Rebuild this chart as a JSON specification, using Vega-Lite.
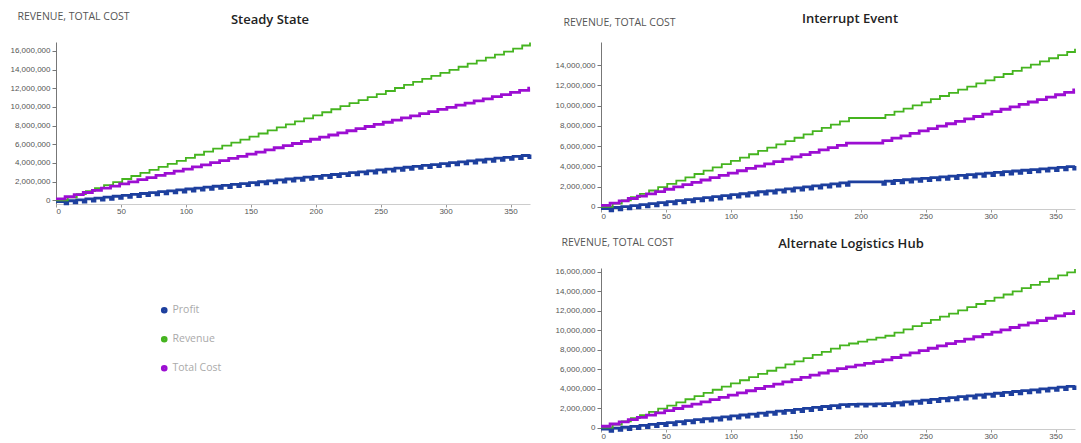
{
"$schema": "https://vega.github.io/schema/vega-lite/v6.json",
"autosize": {"type": "none"},
"padding": {"left": 56, "top": 42, "right": 1025, "bottom": 401},
"background": "white",
"config": {
  "view": {"stroke": null},
  "font": "Liberation Sans",
  "axis": {"grid": false, "labelFont": "Liberation Sans", "labelFontSize": 8, "labelColor": "#555", "tickSize": 4, "labelPadding": 2, "titleFont": "Open Sans", "titleFontSize": 10.5, "titleFontWeight": "normal", "titleColor": "#555"},
  "axisX": {"domainColor": "#ccc", "tickColor": "#999", "tickSize": 3, "labelPadding": 0},
  "axisY": {"domainColor": "#777", "tickColor": "#777"},
  "title": {"font": "Open Sans", "fontSize": 13, "fontWeight": 600, "color": "#222", "anchor": "middle", "frame": "group", "baseline": "middle"}
},
"data": {"values": [
{"s":"S","d":0,"C":150000,"R":0,"P":-150000},
{"s":"S","d":7,"C":378000,"P":-378000},{"s":"S","d":9,"R":325000,"P":-53000},
{"s":"S","d":14,"C":606000,"P":-281000},{"s":"S","d":16,"R":650000,"P":44000},
{"s":"S","d":21,"C":834000,"P":-184000},{"s":"S","d":23,"R":975000,"P":141000},
{"s":"S","d":28,"C":1062000,"P":-87000},{"s":"S","d":30,"R":1300000,"P":238000},
{"s":"S","d":35,"C":1290000,"P":10000},{"s":"S","d":37,"R":1625000,"P":335000},
{"s":"S","d":42,"C":1518000,"P":107000},{"s":"S","d":44,"R":1950000,"P":432000},
{"s":"S","d":49,"C":1746000,"P":204000},{"s":"S","d":51,"R":2275000,"P":529000},
{"s":"S","d":56,"C":1974000,"P":301000},{"s":"S","d":58,"R":2600000,"P":626000},
{"s":"S","d":63,"C":2202000,"P":398000},{"s":"S","d":65,"R":2925000,"P":723000},
{"s":"S","d":70,"C":2430000,"P":495000},{"s":"S","d":72,"R":3250000,"P":820000},
{"s":"S","d":77,"C":2658000,"P":592000},{"s":"S","d":79,"R":3575000,"P":917000},
{"s":"S","d":84,"C":2886000,"P":689000},{"s":"S","d":86,"R":3900000,"P":1014000},
{"s":"S","d":91,"C":3114000,"P":786000},{"s":"S","d":93,"R":4225000,"P":1111000},
{"s":"S","d":98,"C":3342000,"P":883000},{"s":"S","d":100,"R":4550000,"P":1208000},
{"s":"S","d":105,"C":3570000,"P":980000},{"s":"S","d":107,"R":4875000,"P":1305000},
{"s":"S","d":112,"C":3798000,"P":1077000},{"s":"S","d":114,"R":5200000,"P":1402000},
{"s":"S","d":119,"C":4026000,"P":1174000},{"s":"S","d":121,"R":5525000,"P":1499000},
{"s":"S","d":126,"C":4254000,"P":1271000},{"s":"S","d":128,"R":5850000,"P":1596000},
{"s":"S","d":133,"C":4482000,"P":1368000},{"s":"S","d":135,"R":6175000,"P":1693000},
{"s":"S","d":140,"C":4710000,"P":1465000},{"s":"S","d":142,"R":6500000,"P":1790000},
{"s":"S","d":147,"C":4938000,"P":1562000},{"s":"S","d":149,"R":6825000,"P":1887000},
{"s":"S","d":154,"C":5166000,"P":1659000},{"s":"S","d":156,"R":7150000,"P":1984000},
{"s":"S","d":161,"C":5394000,"P":1756000},{"s":"S","d":163,"R":7475000,"P":2081000},
{"s":"S","d":168,"C":5622000,"P":1853000},{"s":"S","d":170,"R":7800000,"P":2178000},
{"s":"S","d":175,"C":5850000,"P":1950000},{"s":"S","d":177,"R":8125000,"P":2275000},
{"s":"S","d":182,"C":6078000,"P":2047000},{"s":"S","d":184,"R":8450000,"P":2372000},
{"s":"S","d":189,"C":6306000,"P":2144000},{"s":"S","d":191,"R":8775000,"P":2469000},
{"s":"S","d":196,"C":6534000,"P":2241000},{"s":"S","d":198,"R":9100000,"P":2566000},
{"s":"S","d":203,"C":6762000,"P":2338000},{"s":"S","d":205,"R":9425000,"P":2663000},
{"s":"S","d":210,"C":6990000,"P":2435000},{"s":"S","d":212,"R":9750000,"P":2760000},
{"s":"S","d":217,"C":7218000,"P":2532000},{"s":"S","d":219,"R":10075000,"P":2857000},
{"s":"S","d":224,"C":7446000,"P":2629000},{"s":"S","d":226,"R":10400000,"P":2954000},
{"s":"S","d":231,"C":7674000,"P":2726000},{"s":"S","d":233,"R":10725000,"P":3051000},
{"s":"S","d":238,"C":7902000,"P":2823000},{"s":"S","d":240,"R":11050000,"P":3148000},
{"s":"S","d":245,"C":8130000,"P":2920000},{"s":"S","d":247,"R":11375000,"P":3245000},
{"s":"S","d":252,"C":8358000,"P":3017000},{"s":"S","d":254,"R":11700000,"P":3342000},
{"s":"S","d":259,"C":8586000,"P":3114000},{"s":"S","d":261,"R":12025000,"P":3439000},
{"s":"S","d":266,"C":8814000,"P":3211000},{"s":"S","d":268,"R":12350000,"P":3536000},
{"s":"S","d":273,"C":9042000,"P":3308000},{"s":"S","d":275,"R":12675000,"P":3633000},
{"s":"S","d":280,"C":9270000,"P":3405000},{"s":"S","d":282,"R":13000000,"P":3730000},
{"s":"S","d":287,"C":9498000,"P":3502000},{"s":"S","d":289,"R":13325000,"P":3827000},
{"s":"S","d":294,"C":9726000,"P":3599000},{"s":"S","d":296,"R":13650000,"P":3924000},
{"s":"S","d":301,"C":9954000,"P":3696000},{"s":"S","d":303,"R":13975000,"P":4021000},
{"s":"S","d":308,"C":10182000,"P":3793000},{"s":"S","d":310,"R":14300000,"P":4118000},
{"s":"S","d":315,"C":10410000,"P":3890000},{"s":"S","d":317,"R":14625000,"P":4215000},
{"s":"S","d":322,"C":10638000,"P":3987000},{"s":"S","d":324,"R":14950000,"P":4312000},
{"s":"S","d":329,"C":10866000,"P":4084000},{"s":"S","d":331,"R":15275000,"P":4409000},
{"s":"S","d":336,"C":11094000,"P":4181000},{"s":"S","d":338,"R":15600000,"P":4506000},
{"s":"S","d":343,"C":11322000,"P":4278000},{"s":"S","d":345,"R":15925000,"P":4603000},
{"s":"S","d":350,"C":11550000,"P":4375000},{"s":"S","d":352,"R":16250000,"P":4700000},
{"s":"S","d":357,"C":11778000,"P":4472000},{"s":"S","d":359,"R":16575000,"P":4797000},
{"s":"S","d":364,"C":12006000,"P":4569000},{"s":"S","d":365,"R":16900000,"C":12006000,"P":4894000},

{"s":"I","d":0,"C":150000,"R":0,"P":-150000},
{"s":"I","d":7,"C":378000,"P":-378000},{"s":"I","d":9,"R":325000,"P":-53000},
{"s":"I","d":14,"C":606000,"P":-281000},{"s":"I","d":16,"R":650000,"P":44000},
{"s":"I","d":21,"C":834000,"P":-184000},{"s":"I","d":23,"R":975000,"P":141000},
{"s":"I","d":28,"C":1062000,"P":-87000},{"s":"I","d":30,"R":1300000,"P":238000},
{"s":"I","d":35,"C":1290000,"P":10000},{"s":"I","d":37,"R":1625000,"P":335000},
{"s":"I","d":42,"C":1518000,"P":107000},{"s":"I","d":44,"R":1950000,"P":432000},
{"s":"I","d":49,"C":1746000,"P":204000},{"s":"I","d":51,"R":2275000,"P":529000},
{"s":"I","d":56,"C":1974000,"P":301000},{"s":"I","d":58,"R":2600000,"P":626000},
{"s":"I","d":63,"C":2202000,"P":398000},{"s":"I","d":65,"R":2925000,"P":723000},
{"s":"I","d":70,"C":2430000,"P":495000},{"s":"I","d":72,"R":3250000,"P":820000},
{"s":"I","d":77,"C":2658000,"P":592000},{"s":"I","d":79,"R":3575000,"P":917000},
{"s":"I","d":84,"C":2886000,"P":689000},{"s":"I","d":86,"R":3900000,"P":1014000},
{"s":"I","d":91,"C":3114000,"P":786000},{"s":"I","d":93,"R":4225000,"P":1111000},
{"s":"I","d":98,"C":3342000,"P":883000},{"s":"I","d":100,"R":4550000,"P":1208000},
{"s":"I","d":105,"C":3570000,"P":980000},{"s":"I","d":107,"R":4875000,"P":1305000},
{"s":"I","d":112,"C":3798000,"P":1077000},{"s":"I","d":114,"R":5200000,"P":1402000},
{"s":"I","d":119,"C":4026000,"P":1174000},{"s":"I","d":121,"R":5525000,"P":1499000},
{"s":"I","d":126,"C":4254000,"P":1271000},{"s":"I","d":128,"R":5850000,"P":1596000},
{"s":"I","d":133,"C":4482000,"P":1368000},{"s":"I","d":135,"R":6175000,"P":1693000},
{"s":"I","d":140,"C":4710000,"P":1465000},{"s":"I","d":142,"R":6500000,"P":1790000},
{"s":"I","d":147,"C":4938000,"P":1562000},{"s":"I","d":149,"R":6825000,"P":1887000},
{"s":"I","d":154,"C":5166000,"P":1659000},{"s":"I","d":156,"R":7150000,"P":1984000},
{"s":"I","d":161,"C":5394000,"P":1756000},{"s":"I","d":163,"R":7475000,"P":2081000},
{"s":"I","d":168,"C":5622000,"P":1853000},{"s":"I","d":170,"R":7800000,"P":2178000},
{"s":"I","d":175,"C":5850000,"P":1950000},{"s":"I","d":177,"R":8125000,"P":2275000},
{"s":"I","d":182,"C":6078000,"P":2047000},{"s":"I","d":184,"R":8450000,"P":2372000},
{"s":"I","d":189,"C":6306000,"P":2144000},{"s":"I","d":191,"R":8775000,"P":2469000},
{"s":"I","d":217,"C":6544000,"P":2231000},{"s":"I","d":219,"R":9085000,"P":2541000},
{"s":"I","d":224,"C":6782000,"P":2303000},{"s":"I","d":226,"R":9395000,"P":2613000},
{"s":"I","d":231,"C":7020000,"P":2375000},{"s":"I","d":233,"R":9705000,"P":2685000},
{"s":"I","d":238,"C":7258000,"P":2447000},{"s":"I","d":240,"R":10015000,"P":2757000},
{"s":"I","d":245,"C":7496000,"P":2519000},{"s":"I","d":247,"R":10325000,"P":2829000},
{"s":"I","d":252,"C":7734000,"P":2591000},{"s":"I","d":254,"R":10635000,"P":2901000},
{"s":"I","d":259,"C":7972000,"P":2663000},{"s":"I","d":261,"R":10945000,"P":2973000},
{"s":"I","d":266,"C":8210000,"P":2735000},{"s":"I","d":268,"R":11255000,"P":3045000},
{"s":"I","d":273,"C":8448000,"P":2807000},{"s":"I","d":275,"R":11565000,"P":3117000},
{"s":"I","d":280,"C":8686000,"P":2879000},{"s":"I","d":282,"R":11875000,"P":3189000},
{"s":"I","d":287,"C":8924000,"P":2951000},{"s":"I","d":289,"R":12185000,"P":3261000},
{"s":"I","d":294,"C":9162000,"P":3023000},{"s":"I","d":296,"R":12495000,"P":3333000},
{"s":"I","d":301,"C":9400000,"P":3095000},{"s":"I","d":303,"R":12805000,"P":3405000},
{"s":"I","d":308,"C":9638000,"P":3167000},{"s":"I","d":310,"R":13115000,"P":3477000},
{"s":"I","d":315,"C":9876000,"P":3239000},{"s":"I","d":317,"R":13425000,"P":3549000},
{"s":"I","d":322,"C":10114000,"P":3311000},{"s":"I","d":324,"R":13735000,"P":3621000},
{"s":"I","d":329,"C":10352000,"P":3383000},{"s":"I","d":331,"R":14045000,"P":3693000},
{"s":"I","d":336,"C":10590000,"P":3455000},{"s":"I","d":338,"R":14355000,"P":3765000},
{"s":"I","d":343,"C":10828000,"P":3527000},{"s":"I","d":345,"R":14665000,"P":3837000},
{"s":"I","d":350,"C":11066000,"P":3599000},{"s":"I","d":352,"R":14975000,"P":3909000},
{"s":"I","d":357,"C":11304000,"P":3671000},{"s":"I","d":359,"R":15285000,"P":3981000},
{"s":"I","d":364,"C":11542000,"P":3743000},{"s":"I","d":365,"R":15595000,"C":11542000,"P":4053000},

{"s":"A","d":0,"C":150000,"R":0,"P":-150000},
{"s":"A","d":7,"C":378000,"P":-378000},{"s":"A","d":9,"R":325000,"P":-53000},
{"s":"A","d":14,"C":606000,"P":-281000},{"s":"A","d":16,"R":650000,"P":44000},
{"s":"A","d":21,"C":834000,"P":-184000},{"s":"A","d":23,"R":975000,"P":141000},
{"s":"A","d":28,"C":1062000,"P":-87000},{"s":"A","d":30,"R":1300000,"P":238000},
{"s":"A","d":35,"C":1290000,"P":10000},{"s":"A","d":37,"R":1625000,"P":335000},
{"s":"A","d":42,"C":1518000,"P":107000},{"s":"A","d":44,"R":1950000,"P":432000},
{"s":"A","d":49,"C":1746000,"P":204000},{"s":"A","d":51,"R":2275000,"P":529000},
{"s":"A","d":56,"C":1974000,"P":301000},{"s":"A","d":58,"R":2600000,"P":626000},
{"s":"A","d":63,"C":2202000,"P":398000},{"s":"A","d":65,"R":2925000,"P":723000},
{"s":"A","d":70,"C":2430000,"P":495000},{"s":"A","d":72,"R":3250000,"P":820000},
{"s":"A","d":77,"C":2658000,"P":592000},{"s":"A","d":79,"R":3575000,"P":917000},
{"s":"A","d":84,"C":2886000,"P":689000},{"s":"A","d":86,"R":3900000,"P":1014000},
{"s":"A","d":91,"C":3114000,"P":786000},{"s":"A","d":93,"R":4225000,"P":1111000},
{"s":"A","d":98,"C":3342000,"P":883000},{"s":"A","d":100,"R":4550000,"P":1208000},
{"s":"A","d":105,"C":3570000,"P":980000},{"s":"A","d":107,"R":4875000,"P":1305000},
{"s":"A","d":112,"C":3798000,"P":1077000},{"s":"A","d":114,"R":5200000,"P":1402000},
{"s":"A","d":119,"C":4026000,"P":1174000},{"s":"A","d":121,"R":5525000,"P":1499000},
{"s":"A","d":126,"C":4254000,"P":1271000},{"s":"A","d":128,"R":5850000,"P":1596000},
{"s":"A","d":133,"C":4482000,"P":1368000},{"s":"A","d":135,"R":6175000,"P":1693000},
{"s":"A","d":140,"C":4710000,"P":1465000},{"s":"A","d":142,"R":6500000,"P":1790000},
{"s":"A","d":147,"C":4938000,"P":1562000},{"s":"A","d":149,"R":6825000,"P":1887000},
{"s":"A","d":154,"C":5166000,"P":1659000},{"s":"A","d":156,"R":7150000,"P":1984000},
{"s":"A","d":161,"C":5394000,"P":1756000},{"s":"A","d":163,"R":7475000,"P":2081000},
{"s":"A","d":168,"C":5622000,"P":1853000},{"s":"A","d":170,"R":7800000,"P":2178000},
{"s":"A","d":175,"C":5850000,"P":1950000},{"s":"A","d":177,"R":8125000,"P":2275000},
{"s":"A","d":182,"C":6078000,"P":2047000},{"s":"A","d":184,"R":8450000,"P":2372000},
{"s":"A","d":189,"C":6258000,"P":2192000},{"s":"A","d":191,"R":8650000,"P":2392000},
{"s":"A","d":196,"C":6438000,"P":2212000},{"s":"A","d":198,"R":8850000,"P":2412000},
{"s":"A","d":203,"C":6618000,"P":2232000},{"s":"A","d":205,"R":9050000,"P":2432000},
{"s":"A","d":210,"C":6798000,"P":2252000},{"s":"A","d":212,"R":9250000,"P":2452000},
{"s":"A","d":217,"C":6978000,"P":2272000},{"s":"A","d":219,"R":9450000,"P":2472000},
{"s":"A","d":224,"C":7215000,"P":2235000},{"s":"A","d":226,"R":9776000,"P":2561000},
{"s":"A","d":231,"C":7452000,"P":2324000},{"s":"A","d":233,"R":10102000,"P":2650000},
{"s":"A","d":238,"C":7689000,"P":2413000},{"s":"A","d":240,"R":10428000,"P":2739000},
{"s":"A","d":245,"C":7926000,"P":2502000},{"s":"A","d":247,"R":10754000,"P":2828000},
{"s":"A","d":252,"C":8163000,"P":2591000},{"s":"A","d":254,"R":11080000,"P":2917000},
{"s":"A","d":259,"C":8400000,"P":2680000},{"s":"A","d":261,"R":11406000,"P":3006000},
{"s":"A","d":266,"C":8637000,"P":2769000},{"s":"A","d":268,"R":11732000,"P":3095000},
{"s":"A","d":273,"C":8874000,"P":2858000},{"s":"A","d":275,"R":12058000,"P":3184000},
{"s":"A","d":280,"C":9111000,"P":2947000},{"s":"A","d":282,"R":12384000,"P":3273000},
{"s":"A","d":287,"C":9348000,"P":3036000},{"s":"A","d":289,"R":12710000,"P":3362000},
{"s":"A","d":294,"C":9585000,"P":3125000},{"s":"A","d":296,"R":13036000,"P":3451000},
{"s":"A","d":301,"C":9822000,"P":3214000},{"s":"A","d":303,"R":13362000,"P":3540000},
{"s":"A","d":308,"C":10059000,"P":3303000},{"s":"A","d":310,"R":13688000,"P":3629000},
{"s":"A","d":315,"C":10296000,"P":3392000},{"s":"A","d":317,"R":14014000,"P":3718000},
{"s":"A","d":322,"C":10533000,"P":3481000},{"s":"A","d":324,"R":14340000,"P":3807000},
{"s":"A","d":329,"C":10770000,"P":3570000},{"s":"A","d":331,"R":14666000,"P":3896000},
{"s":"A","d":336,"C":11007000,"P":3659000},{"s":"A","d":338,"R":14992000,"P":3985000},
{"s":"A","d":343,"C":11244000,"P":3748000},{"s":"A","d":345,"R":15318000,"P":4074000},
{"s":"A","d":350,"C":11481000,"P":3837000},{"s":"A","d":352,"R":15644000,"P":4163000},
{"s":"A","d":357,"C":11718000,"P":3926000},{"s":"A","d":359,"R":15970000,"P":4252000},
{"s":"A","d":364,"C":11955000,"P":4015000},{"s":"A","d":365,"R":16296000,"C":11955000,"P":4341000}
]},
"bounds": "flush",
"spacing": 71,
"resolve": {"scale": {"color": "shared"}, "legend": {"color": "shared"}},
"hconcat": [
  {
    "width": 474, "height": 162,
    "title": {"text": "Steady State", "dx": -23, "offset": -15.5},
    "transform": [{"filter": "datum.s == 'S'"}, {"fold": ["P", "R", "C"], "as": ["k", "v"]}, {"filter": "isValid(datum.v)"}],
    "mark": {"type": "line", "interpolate": "step-after"},
    "encoding": {
      "x": {"field": "d", "type": "quantitative", "scale": {"domain": [0, 365], "nice": false}, "axis": {"values": [0, 50, 100, 150, 200, 250, 300, 350], "title": null}},
      "y": {"field": "v", "type": "quantitative", "scale": {"domain": [-400000, 16950000], "nice": false, "zero": false},
        "axis": {"values": [0, 2000000, 4000000, 6000000, 8000000, 10000000, 12000000, 14000000, 16000000], "format": ",.0f", "title": "REVENUE, TOTAL COST", "titleAngle": 0, "titleAlign": "left", "titleBaseline": "middle", "titleX": -39, "titleY": -25.5}},
      "color": {"field": "k", "type": "nominal", "scale": {"domain": ["P", "R", "C"], "range": ["#1d3f9e", "#45b41f", "#9c0ed2"]},
        "legend": {"orient": "none", "legendX": 103, "legendY": 263, "title": null, "symbolType": "circle", "symbolSize": 10, "symbolStrokeWidth": 3.5, "labelFont": "Open Sans", "labelFontSize": 10.5, "labelColor": "#aaa", "rowPadding": 11, "labelOffset": 3,
          "labelExpr": "datum.label == 'P' ? 'Profit' : datum.label == 'R' ? 'Revenue' : 'Total Cost'"}},
      "strokeWidth": {"condition": {"test": "datum.k == 'R'", "value": 1.8}, "value": 2.8}
    }
  },
  {
    "bounds": "flush",
    "spacing": 59,
    "resolve": {"scale": {"color": "shared"}, "legend": {"color": "shared"}},
    "vconcat": [
      {
        "width": 474, "height": 167,
        "title": {"text": "Interrupt Event", "dx": 12, "offset": -8.5},
        "transform": [{"filter": "datum.s == 'I'"}, {"fold": ["P", "R", "C"], "as": ["k", "v"]}, {"filter": "isValid(datum.v)"}],
        "mark": {"type": "line", "interpolate": "step-after"},
        "encoding": {
          "x": {"field": "d", "type": "quantitative", "scale": {"domain": [0, 365], "nice": false}, "axis": {"values": [0, 50, 100, 150, 200, 250, 300, 350], "title": null}},
          "y": {"field": "v", "type": "quantitative", "scale": {"domain": [-200000, 16270000], "nice": false, "zero": false},
            "axis": {"values": [0, 2000000, 4000000, 6000000, 8000000, 10000000, 12000000, 14000000], "format": ",.0f", "title": "REVENUE, TOTAL COST", "titleAngle": 0, "titleAlign": "left", "titleBaseline": "middle", "titleX": -38, "titleY": -19.5}},
          "color": {"field": "k", "type": "nominal", "scale": {"domain": ["P", "R", "C"], "range": ["#1d3f9e", "#45b41f", "#9c0ed2"]}},
          "strokeWidth": {"condition": {"test": "datum.k == 'R'", "value": 1.8}, "value": 2.8}
        }
      },
      {
        "width": 474, "height": 161,
        "title": {"text": "Alternate Logistics Hub", "dx": 13, "offset": -13.5},
        "transform": [{"filter": "datum.s == 'A'"}, {"fold": ["P", "R", "C"], "as": ["k", "v"]}, {"filter": "isValid(datum.v)"}],
        "mark": {"type": "line", "interpolate": "step-after"},
        "encoding": {
          "x": {"field": "d", "type": "quantitative", "scale": {"domain": [0, 365], "nice": false}, "axis": {"values": [0, 50, 100, 150, 200, 250, 300, 350], "title": null}},
          "y": {"field": "v", "type": "quantitative", "scale": {"domain": [-134000, 16410000], "nice": false, "zero": false},
            "axis": {"values": [0, 2000000, 4000000, 6000000, 8000000, 10000000, 12000000, 14000000, 16000000], "format": ",.0f", "title": "REVENUE, TOTAL COST", "titleAngle": 0, "titleAlign": "left", "titleBaseline": "middle", "titleX": -40, "titleY": -25.5}},
          "color": {"field": "k", "type": "nominal", "scale": {"domain": ["P", "R", "C"], "range": ["#1d3f9e", "#45b41f", "#9c0ed2"]}},
          "strokeWidth": {"condition": {"test": "datum.k == 'R'", "value": 1.8}, "value": 2.8}
        }
      }
    ]
  }
]
}
